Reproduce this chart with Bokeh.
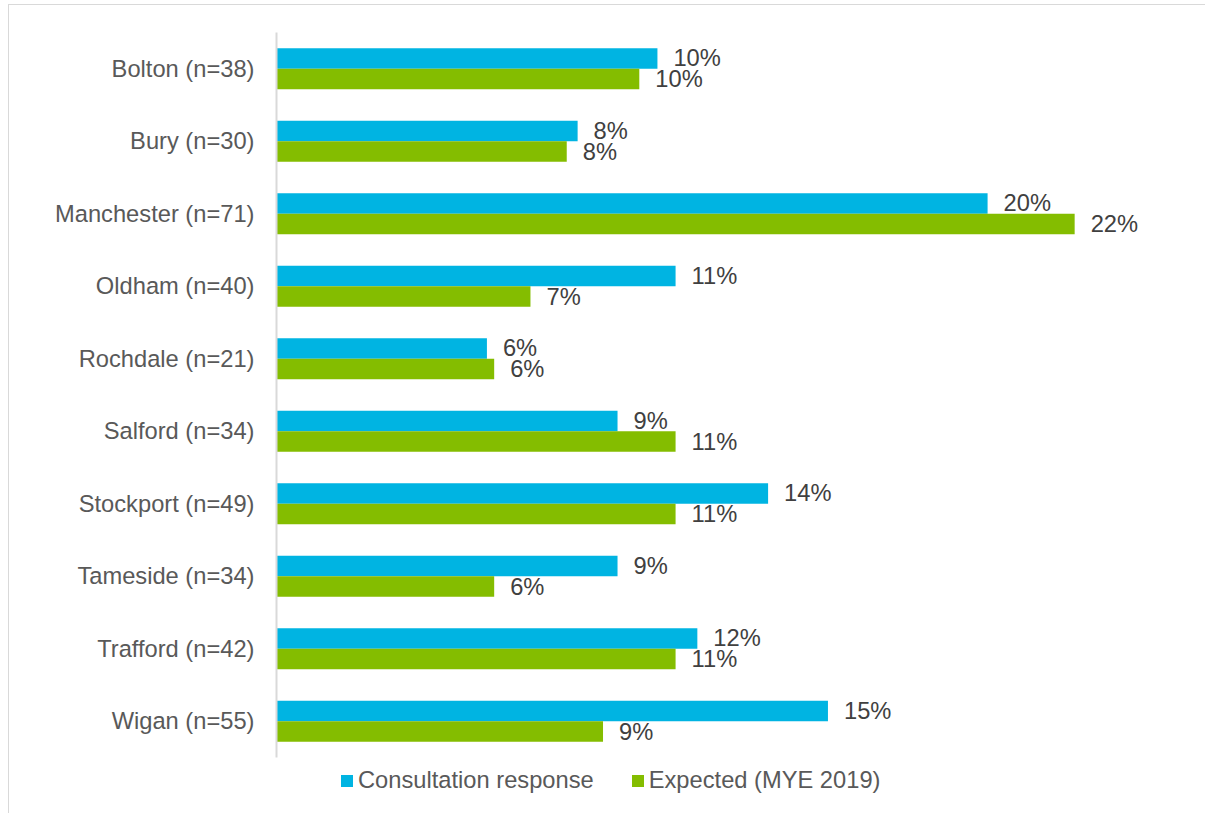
from bokeh.plotting import figure
from bokeh.models import ColumnDataSource, Range1d, Legend, LegendItem, FixedTicker
from bokeh.transform import dodge
from bokeh.core.properties import value
from bokeh.embed import file_html
from bokeh.resources import INLINE

categories = ["Bolton (n=38)", "Bury (n=30)", "Manchester (n=71)", "Oldham (n=40)",
              "Rochdale (n=21)", "Salford (n=34)", "Stockport (n=49)", "Tameside (n=34)",
              "Trafford (n=42)", "Wigan (n=55)"]
consultation = [10.5, 8.3, 19.6, 11.0, 5.8, 9.4, 13.55, 9.4, 11.6, 15.2]
expected = [10.0, 8.0, 22.0, 7.0, 6.0, 11.0, 11.0, 6.0, 11.0, 9.0]
consultation_labels = ["10%", "8%", "20%", "11%", "6%", "9%", "14%", "9%", "12%", "15%"]
expected_labels = ["10%", "8%", "22%", "7%", "6%", "11%", "11%", "6%", "11%", "9%"]
series_names = ["Consultation response", "Expected (MYE 2019)"]

BLUE = "#00B4E2"
GREEN = "#84BD00"
FONT = "Liberation Sans"
FS = "23.7px"

pos = list(range(len(categories)))
src = ColumnDataSource(dict(y=pos, c=consultation, e=expected,
                            cl=consultation_labels, el=expected_labels))

W, H = 1197, 809
top_b, bot_b = 27, 0
frame_h = H - top_b - bot_b
unit_px = 72.5
n = len(categories)

p = figure(width=W, height=H,
           y_range=Range1d(-0.5 + frame_h / unit_px, -0.5),
           x_range=Range1d(0, 25),
           output_backend="svg", toolbar_location=None,
           min_border_left=267, min_border_right=23,
           min_border_top=top_b, min_border_bottom=bot_b)

off = 0.1415
h = 0.283
r1 = p.hbar(y=dodge('y', -off), left=0, right='c', height=h,
            fill_color=BLUE, line_color=None, source=src)
r2 = p.hbar(y=dodge('y', off), left=0, right='e', height=h,
            fill_color=GREEN, line_color=None, source=src)

p.text(x='c', y=dodge('y', -off), text='cl', x_offset=16,
       text_baseline='middle', text_align='left', text_font=value(FONT),
       text_font_size=FS, text_color="#404040", source=src)
p.text(x='e', y=dodge('y', off), text='el', x_offset=16,
       text_baseline='middle', text_align='left', text_font=value(FONT),
       text_font_size=FS, text_color="#404040", source=src)

p.xaxis.visible = False
p.xgrid.visible = False
p.ygrid.visible = False
p.outline_line_color = None

ya = p.yaxis[0]
ya.ticker = FixedTicker(ticks=pos)
ya.major_label_overrides = {i: c for i, c in zip(pos, categories)}
ya.bounds = (-0.5, n - 0.5)
ya.axis_line_color = "#d9d9d9"
ya.axis_line_width = 2
ya.major_tick_line_color = None
ya.minor_tick_line_color = None
ya.major_tick_out = 0
ya.major_label_standoff = 22
ya.major_label_text_font = FONT
ya.major_label_text_font_size = FS
ya.major_label_text_color = "#595959"

legend = Legend(items=[LegendItem(label=series_names[0], renderers=[r1]),
                       LegendItem(label=series_names[1], renderers=[r2])],
                location=(63, 20), orientation="horizontal",
                glyph_width=15, glyph_height=15, label_standoff=4, spacing=36,
                padding=0, margin=0, border_line_color=None,
                background_fill_alpha=0,
                label_text_font=FONT, label_text_font_size=FS,
                label_text_color="#595959")
p.add_layout(legend, 'center')

p.styles = {"border-top": "1px solid #d9d9d9", "border-left": "1px solid #d9d9d9",
            "margin-left": "8px", "margin-top": "4px"}

open("out.html", "w").write(file_html(p, INLINE))
